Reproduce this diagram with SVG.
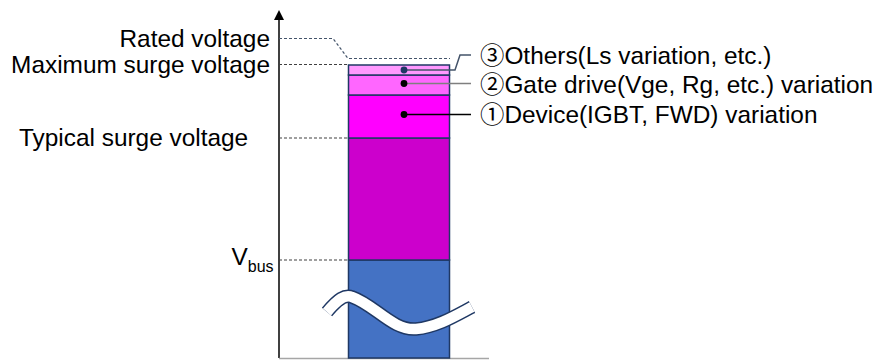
<svg xmlns="http://www.w3.org/2000/svg" width="879" height="360" viewBox="0 0 879 360">
<style>
text{font-family:"Liberation Sans",Arial,"Noto Sans CJK JP",sans-serif;font-size:24.4px;fill:#000}
.seg{stroke:#1F3864;stroke-width:1.5}
.dash{fill:none;stroke:#404040;stroke-width:1.2;stroke-dasharray:3 2}
.lead{fill:none;stroke-width:1.5}
</style>
<rect width="879" height="360" fill="#fff"/>
<g id="axes">
<line x1="279" y1="18" x2="279" y2="358" stroke="#000" stroke-width="1.5"/>
<polygon points="279,10 274,20 284,20" fill="#000"/>
<line x1="279" y1="358.5" x2="489" y2="358.5" stroke="#A6A6A6" stroke-width="1.5"/>
</g>
<g id="bar">
<rect id="seg-vbus" class="seg" x="348.5" y="260" width="101" height="98" fill="#4472C4"/>
<rect id="seg-typical" class="seg" x="348.5" y="138" width="101" height="122" fill="#CC00CC"/>
<rect id="seg-device" class="seg" x="348.5" y="95" width="101" height="43" fill="#FF00FF"/>
<rect id="seg-gate" class="seg" x="348.5" y="75" width="101" height="20" fill="#FF66FF"/>
<rect id="seg-others" class="seg" x="348.5" y="65" width="101" height="10" fill="#FF99FF"/>
</g>
<g id="break">
<path d="M327,312 C338,299 345,294 352,297 C375,305 393,331 416,329 C437,327 455,316 472,307" fill="none" stroke="#1F3864" stroke-width="13.5"/>
<path d="M327,312 C338,299 345,294 352,297 C375,305 393,331 416,329 C437,327 455,316 472,307" fill="none" stroke="#fff" stroke-width="10.5"/>
</g>
<g id="connectors">
<polyline class="dash" points="279,38.5 333,38.5 348,58.5 450,58.5" style="stroke:#44546A"/>
<line class="dash" x1="279" y1="64.5" x2="348" y2="64.5"/>
<line class="dash" x1="279" y1="138" x2="348" y2="138"/>
<line class="dash" x1="279" y1="260" x2="348" y2="260"/>
<polyline class="lead" points="404,70 455,70 460,55 471,55" stroke="#44546A"/>
<line class="lead" x1="404" y1="83.5" x2="471" y2="83.5" stroke="#7F7F7F"/>
<line class="lead" x1="404" y1="114.5" x2="471" y2="114.5" stroke="#000"/>
<circle cx="404" cy="70" r="3.4" fill="#1F3864"/>
<circle cx="404" cy="83.5" r="3.4" fill="#000"/>
<circle cx="404" cy="114.5" r="3.4" fill="#000"/>
</g>
<g id="label-rated"><text x="270" y="46.5" text-anchor="end">Rated voltage</text></g>
<g id="label-max"><text x="270" y="73" text-anchor="end">Maximum surge voltage</text></g>
<g id="label-typical"><text x="19" y="145.5">Typical surge voltage</text></g>
<g id="label-vbus"><text x="231.5" y="265">V<tspan font-size="16" dy="7">bus</tspan></text></g>
<g id="label-others"><text x="480" y="63.5">③Others(Ls variation, etc.)</text></g>
<g id="label-gate"><text x="480" y="92.5">②Gate drive(Vge, Rg, etc.) variation</text></g>
<g id="label-device"><text x="480" y="122.5">①Device(IGBT, FWD) variation</text></g>
</svg>
